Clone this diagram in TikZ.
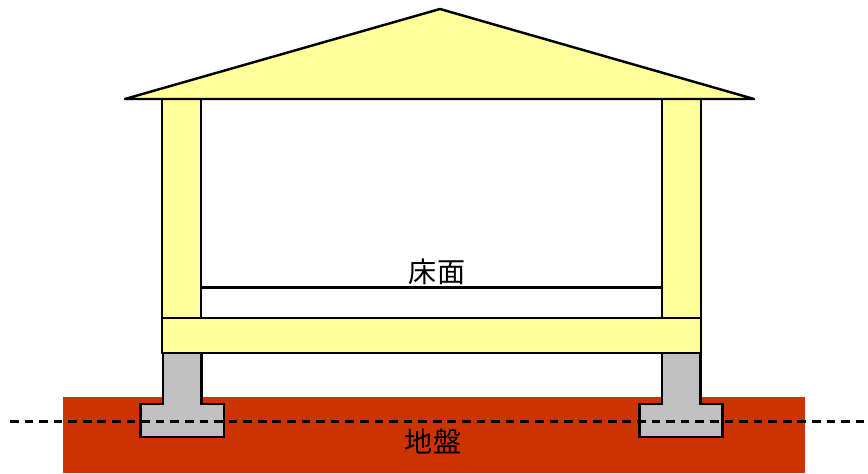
\documentclass[tikz,border=0pt]{standalone}
\usepackage{fontspec}
\newfontfamily\jpfont{Noto Sans CJK JP}
\usepackage{tikz}
\usetikzlibrary{positioning}

\definecolor{woodyellow}{HTML}{FFFF99}
\definecolor{groundred}{HTML}{CC3300}
\definecolor{concrete}{HTML}{C0C0C0}

\begin{document}
\begin{tikzpicture}[
    x=0.02cm, y=-0.02cm,
    wood/.style={fill=woodyellow, draw=black, line width=1.2pt},
    footing/.style={fill=concrete, draw=black, line width=1.4pt, line join=miter},
    ground/.style={fill=groundred, draw=none},
    gl/.style={draw=black, line width=1.3pt, dash pattern=on 4.9pt off 3.4pt},
    tag/.style={font=\jpfont\fontsize{16}{18}\selectfont, inner sep=0pt}
  ]
  \useasboundingbox (0,0) rectangle (868,473);

  % ground block
  \fill[ground] (63,397) rectangle (805,473);

  % concrete foundations (post + footing)
  \draw[footing] (163,353) -- (163,404) -- (140.5,404) -- (140.5,437)
    -- (224,437) -- (224,404) -- (201.5,404) -- (201.5,353) -- cycle;
  \draw[footing] (662,353) -- (662,404) -- (639.5,404) -- (639.5,437)
    -- (722.5,437) -- (722.5,404) -- (700.5,404) -- (700.5,353) -- cycle;

  % ground line
  \coordinate (glL) at (10,421.5);
  \coordinate (glR) at (868,421.5);
  \draw[gl] (glL) -- (glR);

  % sill beam and walls
  \draw[wood, line width=1.4pt] (162,318) rectangle (701,353);
  \draw[wood] (162,99) rectangle (201,318);
  \draw[wood] (662,99) rectangle (701,318);

  % roof
  \draw[wood, line width=1.4pt, line join=round] (125,99) -- (440,9) -- (754,99) -- cycle;

  % floor surface
  \coordinate (flL) at (201,287.5);
  \coordinate (flR) at (662,287.5);
  \draw[line width=1.3pt] (flL) -- (flR);

  \node[tag] (floor) at (437,272) {床面};
  \node[tag] (soil) at (433,441) {地盤};
\end{tikzpicture}
\end{document}
